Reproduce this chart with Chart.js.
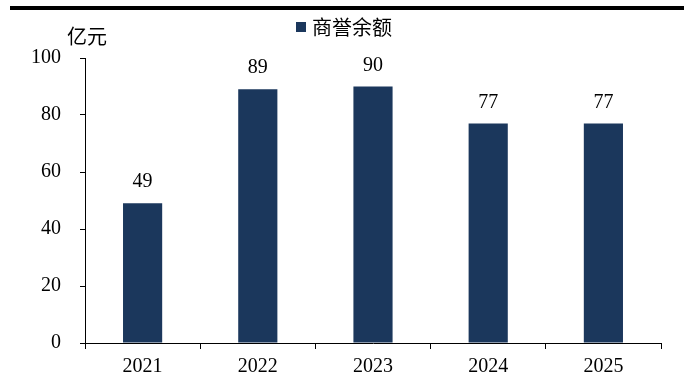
<!DOCTYPE html>
<html>
<head>
<meta charset="utf-8">
<script src="https://cdn.jsdelivr.net/npm/chart.js@4"></script>
<style>
  html, body { margin: 0; padding: 0; background: #fff; }
  #wrap { width: 684px; height: 383px; }
</style>
</head>
<body>
<div id="wrap"><canvas id="GoodwillChart"></canvas></div>
<script>
const years = ["2021", "2022", "2023", "2024", "2025"];
const goodwill = [49, 89, 90, 77, 77];
const yTicks = [0, 20, 40, 60, 80, 100];
const seriesName = "商誉余额";
const unitLabel = "亿元";

const NAVY = "#1b375c";
const NUM_FONT = "'Liberation Serif', 'Times New Roman', serif";
const CJK_FONT = "'Noto Sans CJK SC', sans-serif";

// heavy rule across the top, unit caption and the series key
const framePlugin = {
  id: "frame",
  beforeDraw(chart) {
    const { ctx } = chart;
    ctx.save();
    ctx.fillStyle = "#000";
    ctx.fillRect(10, 6, chart.width - 10, 4);

    ctx.font = "20px " + CJK_FONT;
    ctx.textAlign = "left";
    ctx.textBaseline = "middle";
    ctx.fillText(unitLabel, 67, 36);

    const ds = chart.data.datasets[0];
    ctx.fillStyle = ds.backgroundColor;
    ctx.fillRect(296, 22, 10, 10);
    ctx.fillStyle = "#000";
    ctx.fillText(ds.label, 312, 27);
    ctx.restore();
  },
};

// value written above each bar
const valueLabels = {
  id: "valueLabels",
  afterDatasetsDraw(chart) {
    const { ctx } = chart;
    const meta = chart.getDatasetMeta(0);
    ctx.save();
    ctx.font = "20px " + NUM_FONT;
    ctx.fillStyle = "#000";
    ctx.textAlign = "center";
    ctx.textBaseline = "alphabetic";
    meta.data.forEach((bar, i) => {
      ctx.fillText(String(goodwill[i]), bar.x, bar.y - 16);
    });
    ctx.restore();
  },
};

const data = {
  labels: years,
  datasets: [
    {
      label: seriesName,
      data: goodwill,
      backgroundColor: NAVY,
      borderWidth: 0,
      barPercentage: 0.34,
      categoryPercentage: 1,
    },
  ],
};

const config = {
  type: "bar",
  data: data,
  options: {
    responsive: true,
    maintainAspectRatio: false,
    animation: false,
    layout: {
      padding: { top: 58, right: 23, bottom: 0, left: 0 },
    },
    plugins: {
      legend: { display: false },
      tooltip: { enabled: false },
    },
    scales: {
      x: {
        grid: {
          drawOnChartArea: false,
          drawTicks: true,
          tickLength: 6,
          color: "#000",
        },
        border: { color: "#000", width: 1 },
        ticks: {
          color: "#000",
          padding: 6,
          font: { family: NUM_FONT, size: 20 },
        },
        afterFit(scale) {
          scale.height = 40;
        },
      },
      y: {
        min: 0,
        max: 100,
        afterBuildTicks(scale) {
          scale.ticks = yTicks.map((v) => ({ value: v }));
        },
        grid: {
          drawOnChartArea: false,
          drawTicks: true,
          tickLength: 5,
          color: "#000",
        },
        border: { color: "#000", width: 1 },
        ticks: {
          color: "#000",
          padding: 19,
          font: { family: NUM_FONT, size: 20 },
        },
        afterFit(scale) {
          scale.width = 85;
        },
      },
    },
  },
  plugins: [framePlugin, valueLabels],
};

new Chart(document.getElementById("GoodwillChart"), config);
</script>
</body>
</html>
